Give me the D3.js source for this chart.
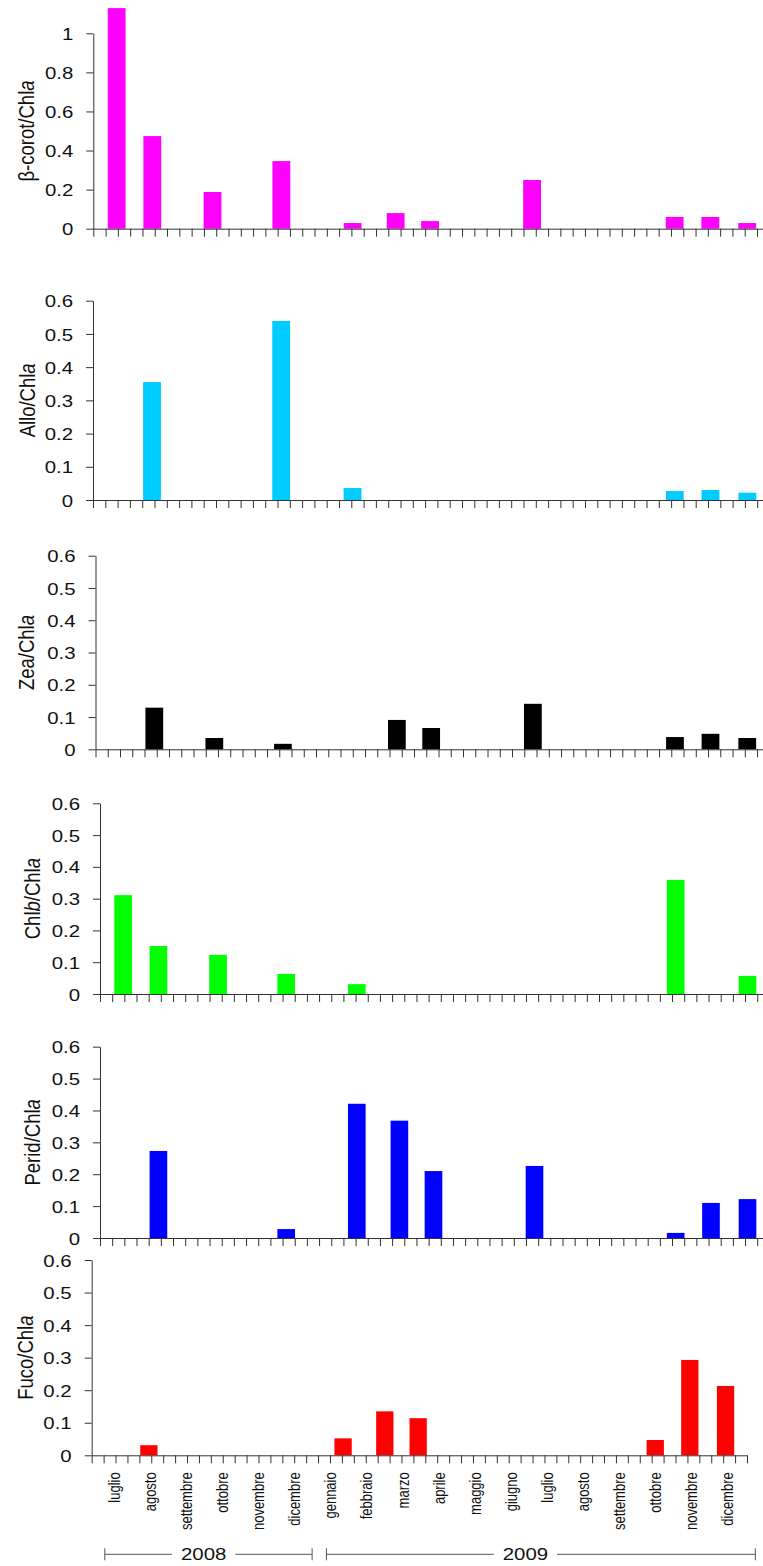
<!DOCTYPE html>
<html>
<head>
<meta charset="utf-8">
<script src="https://cdn.jsdelivr.net/npm/d3@7"></script>
<style>
  body { margin: 0; background: #fff; }
  svg { display: block; font-family: "Liberation Sans", Arial, sans-serif; }
</style>
</head>
<body>
<svg id="chart" width="763" height="1566"></svg>
<script>
// Sampling dates (one bar slot per date)
const sampleDates = ["2008-07-20", "2008-08-18", "2008-10-06", "2008-12-01", "2009-01-28",
                     "2009-03-04", "2009-04-01", "2009-06-23", "2009-10-17", "2009-11-15", "2009-12-15"];

// Pigment / Chla ratios per sampling date
const betaCarot = [1.129, 0.474, 0.188, 0.346, 0.029, 0.080, 0.039, 0.249, 0.060, 0.060, 0.029];
const allo      = [0, 0.355, 0, 0.539, 0.036, 0, 0, 0, 0.027, 0.030, 0.022];
const zea       = [0, 0.129, 0.035, 0.017, 0, 0.091, 0.066, 0.141, 0.038, 0.048, 0.035];
const chlb      = [0.311, 0.151, 0.123, 0.063, 0.031, 0, 0, 0, 0.359, 0, 0.057];
const perid     = [0, 0.273, 0, 0.028, 0.421, 0.368, 0.210, 0.226, 0.016, 0.110, 0.122];
const fuco      = [0, 0.031, 0, 0, 0.052, 0.135, 0.114, 0, 0.047, 0.293, 0.213];

// y tick values
const ticksBeta = [0, 0.2, 0.4, 0.6, 0.8, 1];
const ticksRatio = [0, 0.1, 0.2, 0.3, 0.4, 0.5, 0.6];

// Month labels under the last panel
const monthLabels = ["luglio", "agosto", "settembre", "ottobre", "novembre", "dicembre",
                     "gennaio", "febbraio", "marzo", "aprile", "maggio", "giugno",
                     "luglio", "agosto", "settembre", "ottobre", "novembre", "dicembre"];
const monthLabelSpan = ["2008-07-20", "2009-12-17"];

// Year brackets: start, end, label position
const yearLabels = ["2008", "2009"];
const yearSpans = [["2008-07-12", "2009-01-02", "2008-10-03"],
                   ["2009-01-14", "2010-01-09", "2009-06-30"]];

// Time axis: ticks every 10 days
const DAY = 864e5;
const axisStart = Date.UTC(2008, 6, 1);
const axisDays = 550;
const tickStepDays = 10;
const barDays = 14.5;

const parse = d3.utcParse("%Y-%m-%d");
const STRETCH = 1.2;

// Panel layout
const panels = [
  { values: betaCarot, color: "#ff00ff", ticks: ticksBeta, max: 1,
    title: [["β-corot/Chl", false], ["a", true]],
    left: 93.3, right: 769.3, top: 33.3, bottom: 228.7, titleX: 33.5 },
  { values: allo, color: "#00ccff", ticks: ticksRatio, max: 0.6,
    title: [["Allo/Chl", false], ["a", true]],
    left: 93, right: 769.5, top: 300.7, bottom: 500, titleX: 35 },
  { values: zea, color: "#000000", ticks: ticksRatio, max: 0.6,
    title: [["Zea/Chl", false], ["a", true]],
    left: 95.5, right: 769.3, top: 555.7, bottom: 749.3, titleX: 34 },
  { values: chlb, color: "#00ff00", ticks: ticksRatio, max: 0.6,
    title: [["Chl", false], ["b", true], ["/Chl", false], ["a", true]],
    left: 100, right: 769.4, top: 803.3, bottom: 994, titleX: 40 },
  { values: perid, color: "#0000ff", ticks: ticksRatio, max: 0.6,
    title: [["Perid/Chl", false], ["a", true]],
    left: 100, right: 769.4, top: 1046.7, bottom: 1238, titleX: 39.5 },
  { values: fuco, color: "#ff0000", ticks: ticksRatio, max: 0.6,
    title: [["Fuco/Chl", false], ["a", true]],
    left: 91.7, right: 747, top: 1260, bottom: 1455.3, titleX: 33 }
];

const svg = d3.select("#chart");
const axisColor = "#333";
const tickDates = d3.range(0, axisDays + 1, tickStepDays).map(d => new Date(axisStart + d * DAY));
const fmt = v => v === 0 ? "0" : String(+v.toFixed(1));

let lastX = null;

panels.forEach(p => {
  const x = d3.scaleUtc()
    .domain([new Date(axisStart), new Date(axisStart + axisDays * DAY)])
    .range([p.left, p.right]);
  const y = d3.scaleLinear().domain([0, p.max]).range([p.bottom, p.top]);
  const bw = x(new Date(axisStart + barDays * DAY)) - x(new Date(axisStart));

  const g = svg.append("g");

  // bars
  const rows = sampleDates.map((d, i) => ({ date: parse(d), v: p.values[i] })).filter(r => r.v > 0);
  g.append("g").selectAll("rect").data(rows).join("rect")
    .attr("x", r => x(r.date) - bw / 2)
    .attr("width", bw)
    .attr("y", r => y(r.v))
    .attr("height", r => y(0) - y(r.v))
    .attr("fill", p.color);

  // x axis
  const xa = g.append("g").attr("transform", `translate(0,${p.bottom})`)
    .call(d3.axisBottom(x).tickValues(tickDates).tickFormat("").tickSize(8).tickSizeOuter(0));
  xa.select(".domain").attr("stroke", axisColor);
  xa.selectAll(".tick line").attr("stroke", axisColor);

  // y axis
  const ya = g.append("g").attr("transform", `translate(${p.left},0)`)
    .call(d3.axisLeft(y).tickValues(p.ticks).tickFormat(fmt).tickSize(7).tickSizeOuter(0));
  ya.select(".domain").attr("stroke", axisColor);
  ya.selectAll(".tick line").attr("stroke", axisColor);
  ya.selectAll(".tick text")
    .attr("x", 0).attr("dy", "0.36em")
    .attr("transform", `translate(-20,0) scale(${STRETCH},1)`)
    .attr("font-size", 17).attr("font-family", "Liberation Sans, Arial, sans-serif")
    .attr("fill", "#111");

  // y title
  const t = g.append("text")
    .attr("transform", `translate(${p.titleX},${(p.top + p.bottom) / 2}) scale(${STRETCH},1) rotate(-90)`)
    .attr("text-anchor", "middle")
    .attr("font-size", 18.5)
    .attr("fill", "#111");
  p.title.forEach(([s, it]) => t.append("tspan").text(s).attr("font-style", it ? "italic" : "normal"));

  lastX = x;
});

// month labels
const last = panels[panels.length - 1];
const mScale = d3.scalePoint()
  .domain(d3.range(monthLabels.length))
  .range([lastX(parse(monthLabelSpan[0])), lastX(parse(monthLabelSpan[1]))]);
svg.append("g").selectAll("text").data(monthLabels).join("text")
  .attr("transform", (d, i) => `translate(${mScale(i)},${last.bottom + 17}) scale(${STRETCH},1) rotate(-90)`)
  .attr("text-anchor", "end")
  .attr("dy", "0.35em")
  .attr("font-size", 13)
  .attr("fill", "#111")
  .text(d => d);

// year brackets
const yearY = 1554.3;
const yg = svg.append("g");
yearLabels.forEach((lab, i) => {
  const [s, e, c] = yearSpans[i];
  const x0 = lastX(parse(s)), x1 = lastX(parse(e)), xc = lastX(parse(c));
  const txt = yg.append("text")
    .attr("transform", `translate(${xc},${yearY}) scale(${STRETCH},1)`)
    .attr("text-anchor", "middle").attr("dy", "0.36em")
    .attr("font-size", 17).attr("fill", "#111").text(lab);
  const half = txt.node().getComputedTextLength() * STRETCH / 2 + 9;
  const line = (a, b) => yg.append("line").attr("x1", a).attr("x2", b)
    .attr("y1", yearY).attr("y2", yearY).attr("stroke", "#555");
  line(x0, xc - half);
  line(xc + half, x1);
  [x0, x1].forEach(xx => yg.append("line").attr("x1", xx).attr("x2", xx)
    .attr("y1", yearY - 6).attr("y2", yearY + 6).attr("stroke", "#555"));
});
</script>
</body>
</html>
